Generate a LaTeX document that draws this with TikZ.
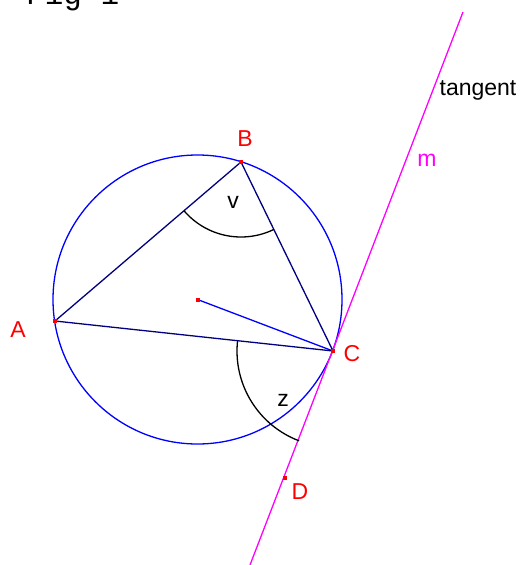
\documentclass[tikz,border=0pt]{standalone}
\usepackage{fontspec}
\setmainfont{Liberation Sans}
\newfontfamily\figmono{Liberation Mono}
\begin{document}
\begin{tikzpicture}[x=1pt,y=-1pt,
  lbl/.style={inner sep=0pt,font=\fontsize{23}{27}\selectfont},
  redlbl/.style={lbl,text=pred},
  pt/.style={fill=pred,minimum size=4pt,inner sep=0pt,draw=none},
  tri/.style={draw=navy,line width=1.3pt},
  angarc/.style={draw=black,line width=1.3pt}]
\definecolor{navy}{RGB}{0,0,128}
\definecolor{pmag}{RGB}{255,0,255}
\definecolor{pred}{RGB}{255,0,0}
\definecolor{pblue}{RGB}{0,0,255}
\useasboundingbox (0,0) rectangle (524,565);
% points
\coordinate (O) at (197.5,299.5);
\coordinate (A) at (55,321);
\coordinate (B) at (241,162);
\coordinate (C) at (333,351);
\coordinate (T1) at (250,565);
\coordinate (T2) at (463,12);
% circle
\draw[pblue,line width=1.3pt] (O) circle[radius=144.5];
% tangent
\draw[pmag,line width=1.3pt] (T1) -- (T2);
% radius
\draw[pblue,line width=1.3pt] (O) -- (C);
% triangle
\draw[tri] (A) -- (B) -- (C) -- cycle;
% angle arcs
\draw[angarc] (B) ++(139.5:75) arc[start angle=139.5,end angle=64,radius=75];
\draw[angarc] (C) ++(186.2:96) arc[start angle=186.2,end angle=110.7,radius=96];
% point markers
\node[pt] (pO) at (O) {};
\node[pt] (pA) at (A) {};
\node[pt] (pB) at (B) {};
\node[pt] (pC) at (C) {};
\node[pt] (pD) at (285,478) {};
% labels
\node[redlbl] (lA) at (18,330) {A};
\node[redlbl] (lB) at (245,139) {B};
\node[redlbl] (lC) at (352,354) {C};
\node[redlbl] (lD) at (300,492) {D};
\node[lbl] (lv) at (233,202) {v};
\node[lbl] (lz) at (283,400) {z};
\node[lbl,text=pmag] (lm) at (427,160) {m};
\node[lbl] (lt) at (478,90) {tangent};
\node[anchor=base west,inner sep=0pt,font=\figmono\fontsize{31}{36}\selectfont] (fig) at (26,4) {Fig 1};
\end{tikzpicture}
\end{document}
